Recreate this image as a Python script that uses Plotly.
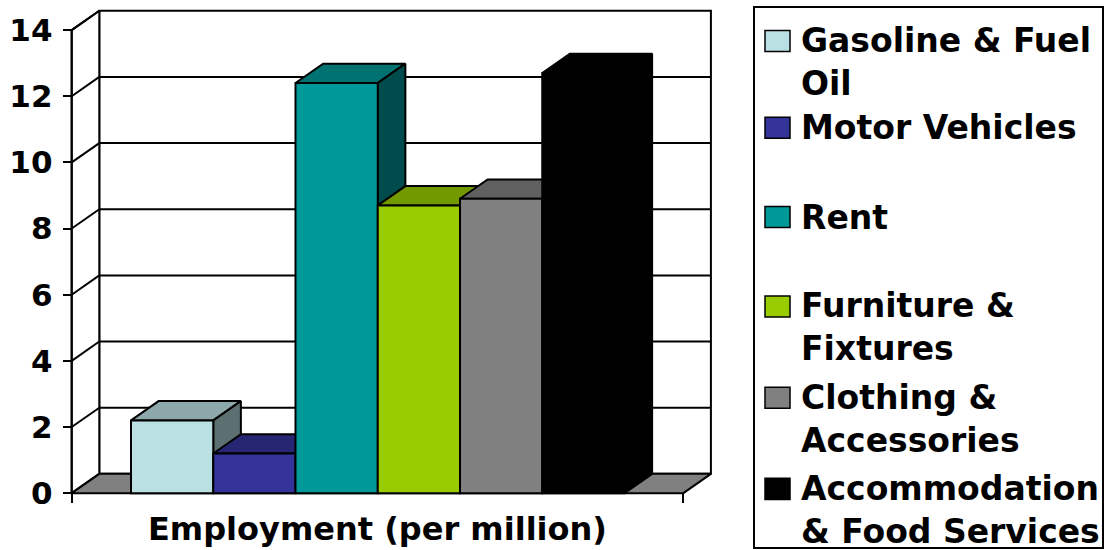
import plotly.graph_objects as go

# ---------------- data ----------------
categories = ["Gasoline & Fuel Oil", "Motor Vehicles", "Rent",
              "Furniture & Fixtures", "Clothing & Accessories",
              "Accommodation & Food Services"]
legend_labels = ["Gasoline & Fuel<br>Oil", "Motor Vehicles", "Rent",
                 "Furniture &<br>Fixtures", "Clothing &<br>Accessories",
                 "Accommodation<br>& Food Services"]
values = [2.2, 1.2, 12.4, 8.7, 8.9, 12.7]
colors = ["#BBE0E3", "#333399", "#009999", "#99CC00", "#808080", "#000000"]
y_ticks = [0, 2, 4, 6, 8, 10, 12, 14]
x_title = "Employment (per million)"

# ---------------- geometry (layout constants) ----------------
W, H = 1104, 550      # reference frame (positions below are given in it)
FIG_H = 561           # figure height (screenshot compresses it to ~550)
PX_X = 82.25          # pixels per bar width
PX_Y = 33.02          # pixels per value unit
X0_PX = 71.7          # pixel x of front value axis
Y0_PX = 492.3         # pixel y of value 0 (front)
GAP = 0.721           # space before first bar (bar widths)
FLOOR_END = 7.436     # front floor length (bar widths)
DX = 0.3356           # depth offset in x (bar widths)
DZ = 0.5845           # depth offset in y (value units)
YMAX = 14
FONT = "DejaVu Sans"


def fy(px):
    return (H - px) / H


dom_x_px = (50, 730)
dom_y_px = (500, 2)
xrange_ = [(dom_x_px[0] - X0_PX) / PX_X, (dom_x_px[1] - X0_PX) / PX_X]
yrange_ = [(Y0_PX - dom_y_px[0]) / PX_Y, (Y0_PX - dom_y_px[1]) / PX_Y]
xdom = [dom_x_px[0] / W, dom_x_px[1] / W]
ydom = [fy(dom_y_px[0]), fy(dom_y_px[1])]


def shade(hexc, f):
    hexc = hexc.lstrip("#")
    r, g, b = (int(hexc[i:i + 2], 16) for i in (0, 2, 4))
    return "#%02X%02X%02X" % (int(r * f), int(g * f), int(b * f))


def poly(xs, ys, fill, lw=2):
    return go.Scatter(x=xs + [xs[0]], y=ys + [ys[0]], mode="lines",
                      fill="toself", fillcolor=fill,
                      line=dict(color="black", width=lw),
                      hoverinfo="skip", showlegend=False, xaxis="x", yaxis="y")


fig = go.Figure()

# back wall
fig.add_trace(poly([DX, FLOOR_END + DX, FLOOR_END + DX, DX],
                   [DZ, DZ, YMAX + DZ, YMAX + DZ], "white"))
# left wall
fig.add_trace(poly([0, DX, DX, 0], [0, DZ, YMAX + DZ, YMAX], "white"))
# floor
fig.add_trace(poly([0, FLOOR_END, FLOOR_END + DX, DX], [0, 0, DZ, DZ], "#808080"))

# gridlines on back wall and left wall
gx, gy = [], []
for t in y_ticks[1:-1]:
    gx += [DX, FLOOR_END + DX, None]
    gy += [t + DZ, t + DZ, None]
for t in y_ticks[1:]:
    gx += [0, DX, None]
    gy += [t, t + DZ, None]
gx += [0, 0]
gy += [0, YMAX]
fig.add_trace(go.Scatter(x=gx, y=gy, mode="lines", line=dict(color="black", width=2),
                         hoverinfo="skip", showlegend=False, xaxis="x", yaxis="y"))

# 3D top and side faces, left to right
for i, v in enumerate(values):
    xl = GAP + i
    xr = xl + 1
    fig.add_trace(poly([xl, xr, xr + DX, xl + DX], [v, v, v + DZ, v + DZ],
                       shade(colors[i], 0.75)))
    fig.add_trace(poly([xr, xr + DX, xr + DX, xr], [0, DZ, v + DZ, v],
                       shade(colors[i], 0.5)))

# front faces as bars on an overlay axis (drawn above the faces)
fig.add_trace(go.Bar(x=[GAP + i + 0.5 for i in range(len(values))], y=values,
                     width=1, marker=dict(color=colors, line=dict(color="black", width=2)),
                     hovertext=categories, hoverinfo="text+y",
                     showlegend=False, xaxis="x2", yaxis="y2"))

# manual legend
legend_centers_px = [41, 127.5, 216.7, 306, 397, 488]
shapes = [dict(type="rect", xref="paper", yref="paper",
               x0=754 / W, x1=1103 / W, y0=fy(547), y1=fy(7),
               line=dict(color="black", width=2), fillcolor="rgba(0,0,0,0)")]
annotations = []
LINE_H = 41.6
for lab, c, cy in zip(legend_labels, colors, legend_centers_px):
    shapes.append(dict(type="rect", xref="paper", yref="paper",
                       x0=765 / W, x1=790 / W, y0=fy(cy + 10.5), y1=fy(cy - 10.5),
                       line=dict(color="black", width=1.5), fillcolor=c))
    nlines = lab.count("<br>") + 1
    mid = cy + (nlines - 1) * LINE_H / 2
    annotations.append(dict(text=lab, xref="paper", yref="paper",
                            x=799 / W, y=fy(mid), xanchor="left", yanchor="middle",
                            align="left", showarrow=False,
                            font=dict(family=FONT, size=33, color="black", weight="bold")))

annotations.append(dict(text=x_title, xref="paper", yref="paper",
                        x=(X0_PX + FLOOR_END * PX_X / 2) / W, y=fy(528),
                        xanchor="center", yanchor="middle", showarrow=False,
                        font=dict(family=FONT, size=32, color="black", weight="bold")))

fig.update_layout(
    width=W, height=FIG_H, autosize=False,
    margin=dict(l=0, r=0, t=0, b=0),
    paper_bgcolor="white", plot_bgcolor="white",
    showlegend=False, barmode="overlay",
    shapes=shapes, annotations=annotations,
    xaxis=dict(domain=xdom, range=xrange_, anchor="free", position=fy(Y0_PX),
               showgrid=False, zeroline=False, showline=False,
               tickmode="array", tickvals=[0, FLOOR_END], ticks="outside",
               ticklen=9, tickwidth=2, tickcolor="black", showticklabels=False,
               fixedrange=True),
    yaxis=dict(domain=ydom, range=yrange_, anchor="free", position=X0_PX / W,
               showgrid=False, zeroline=False, showline=False,
               tickmode="array", tickvals=y_ticks, ticks="outside",
               ticklen=9, tickwidth=2, tickcolor="black", ticklabelstandoff=4,
               tickfont=dict(family=FONT, size=31, color="black", weight="bold"),
               fixedrange=True),
    xaxis2=dict(overlaying="x", range=xrange_, visible=False, anchor="y2", fixedrange=True),
    yaxis2=dict(overlaying="y", range=yrange_, visible=False, anchor="x2", fixedrange=True),
)

page_js = ("var s=document.createElement('style');"
           "s.textContent='html,body{margin:0;padding:0;overflow:hidden;}';"
           "document.head.appendChild(s);")
fig.write_html("out.html", config={"displayModeBar": False}, post_script=page_js)
